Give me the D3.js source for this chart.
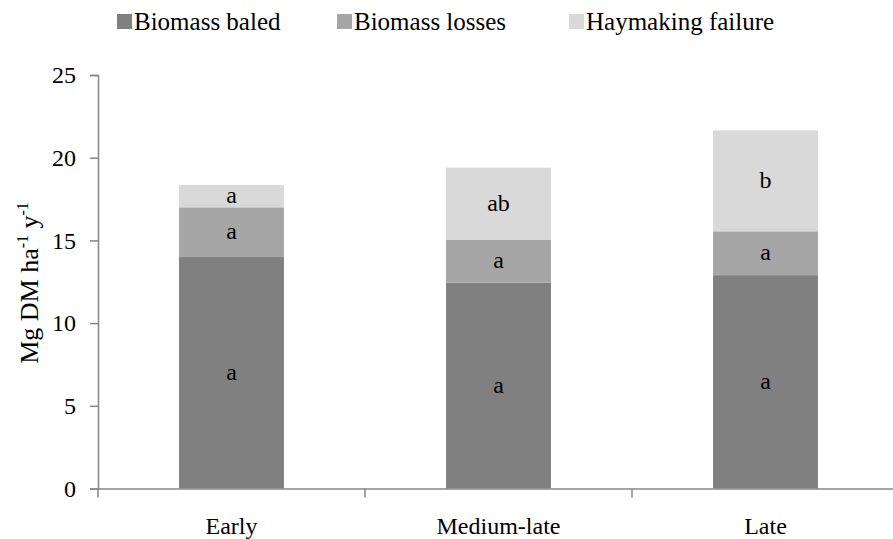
<!DOCTYPE html>
<html>
<head>
<meta charset="utf-8">
<script src="https://cdn.jsdelivr.net/npm/d3@7"></script>
<style>
  body { margin: 0; background: #fff; }
  svg text { font-family: "Liberation Serif", "Tinos", "DejaVu Serif", serif !important; fill: #000; }
</style>
</head>
<body>
<div id="chart"></div>
<script>
const categories = ['Early', 'Medium-late', 'Late'];
const seriesNames = ['Biomass baled', 'Biomass losses', 'Haymaking failure'];
const baled = [14.0, 12.45, 12.9];
const losses = [3.0, 2.6, 2.65];
const failure = [1.35, 4.35, 6.1];
const letters = [['a', 'a', 'a'], ['a', 'a', 'ab'], ['a', 'a', 'b']];
const yTicks = [0, 5, 10, 15, 20, 25];

const width = 893;
const height = 539;
const margin = { top: 75, right: -6, bottom: 50.5, left: 98 };
const colors = ['#808080', '#a6a6a6', '#d9d9d9'];
const fontSize = 24;
const serif = '"Liberation Serif", "Times New Roman", serif';

const rows = categories.map((c, i) => ({
  category: c,
  'Biomass baled': baled[i],
  'Biomass losses': losses[i],
  'Haymaking failure': failure[i],
}));
const stacked = d3.stack().keys(seriesNames)(rows);

const x = d3.scaleBand()
  .domain(categories)
  .range([margin.left, width - margin.right])
  .padding(0);

const y = d3.scaleLinear()
  .domain([0, 25])
  .range([height - margin.bottom, margin.top]);

const barW = x.bandwidth() * 0.393;

const svg = d3.select('#chart')
  .append('svg')
  .attr('width', width)
  .attr('height', height);

// bars
svg.append('g')
  .selectAll('g')
  .data(stacked)
  .join('g')
  .attr('fill', (d, i) => colors[i])
  .selectAll('rect')
  .data((d) => d)
  .join('rect')
  .attr('x', (d) => x(d.data.category) + (x.bandwidth() - barW) / 2)
  .attr('y', (d) => y(d[1]))
  .attr('height', (d) => y(d[0]) - y(d[1]))
  .attr('width', barW);

// significance letters
stacked.forEach((layer, si) => {
  svg.append('g')
    .selectAll('text')
    .data(layer)
    .join('text')
    .attr('x', (d) => x(d.data.category) + x.bandwidth() / 2)
    .attr('y', (d) => (y(d[0]) + y(d[1])) / 2)
    .attr('dy', '0.3em')
    .attr('text-anchor', 'middle')
    .attr('font-size', fontSize)
    .text((d, i) => letters[i][si]);
});

const axisColor = '#868686';

// y axis
const yAxis = svg.append('g')
  .attr('transform', `translate(${margin.left},0)`)
  .call(d3.axisLeft(y).tickValues(yTicks).tickSize(8).tickPadding(14).tickSizeOuter(8));
yAxis.selectAll('path, line').attr('stroke', axisColor).attr('stroke-width', 1.5);
yAxis.selectAll('text').attr('font-size', fontSize).attr('fill', '#000');

// x axis
const xAxis = svg.append('g')
  .attr('transform', `translate(0,${height - margin.bottom})`)
  .call(d3.axisBottom(x).tickSize(0).tickPadding(28).tickSizeOuter(0));
xAxis.select('.domain').attr('stroke', axisColor).attr('stroke-width', 1.5);
xAxis.selectAll('text').attr('font-size', fontSize).attr('fill', '#000');
// category separator ticks
xAxis.append('g')
  .selectAll('line')
  .data(categories)
  .join('line')
  .attr('x1', (d) => x(d))
  .attr('x2', (d) => x(d))
  .attr('y1', 0)
  .attr('y2', 9)
  .attr('stroke', axisColor)
  .attr('stroke-width', 1.5);

// y title
const yTitle = svg.append('text')
  .attr('transform', 'translate(38,283) rotate(-90)')
  .attr('text-anchor', 'middle')
  .attr('font-size', 26);
yTitle.append('tspan').text('Mg DM ha');
yTitle.append('tspan').attr('dy', -10).attr('font-size', 16).text('-1');
yTitle.append('tspan').attr('dy', 10).text(' y');
yTitle.append('tspan').attr('dy', -10).attr('font-size', 16).text('-1');

// legend
const legendX = [117, 337, 569];
const legend = svg.append('g')
  .selectAll('g')
  .data(seriesNames)
  .join('g')
  .attr('transform', (d, i) => `translate(${legendX[i]},22)`);
legend.append('rect')
  .attr('x', 0)
  .attr('y', -8)
  .attr('width', 15)
  .attr('height', 15)
  .attr('fill', (d, i) => colors[i]);
legend.append('text')
  .attr('x', 17)
  .attr('y', 0)
  .attr('dy', '0.33em')
  .attr('font-size', 25)
  .text((d) => d);

svg.selectAll('text').style('font-family', serif);
</script>
</body>
</html>
